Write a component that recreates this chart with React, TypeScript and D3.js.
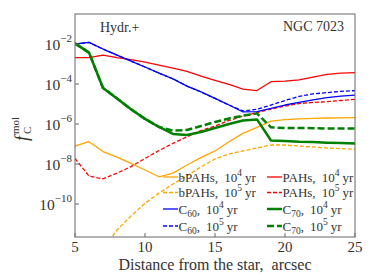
import * as d3 from 'd3';

// distance from the star, arcsec
const distances = [5, 6, 7, 8, 9, 10, 11, 12, 13, 14, 15, 16, 17, 18, 19, 20, 21, 22, 23, 24, 25];

const bPAHs1e4 = [7.9e-8, 1.3e-7, 4.2e-8, 2.2e-8, 1.07e-8, 5.0e-9, 2.3e-9, 3.5e-9, 8.9e-9, 2.1e-8, 4.5e-8, 1.3e-7, 3.4e-7, 6.8e-7, 1.4e-6, 1.66e-6, 1.8e-6, 1.9e-6, 2.0e-6, 2.04e-6, 2.1e-6];
const bPAHs1e5 = [1e-15, 1e-14, 5e-13, 5e-12, 2.5e-11, 1.07e-10, 3.5e-10, 1.0e-9, 2.6e-9, 7.1e-9, 1.8e-8, 3.2e-8, 4.5e-8, 6.3e-8, 8.9e-8, 8.9e-8, 7.9e-8, 7.1e-8, 6.3e-8, 5.9e-8, 5.4e-8];
const pahs1e4 = [2.1e-3, 2.1e-3, 2.8e-3, 2.1e-3, 1.65e-3, 1.25e-3, 8.9e-4, 6.3e-4, 4.3e-4, 2.5e-4, 1.5e-4, 9.5e-5, 5.6e-5, 4.7e-5, 1.3e-4, 1.4e-4, 1.6e-4, 2.2e-4, 3.0e-4, 3.5e-4, 3.7e-4];
const pahs1e5 = [1.9e-8, 2.5e-9, 1.8e-9, 3.5e-9, 7.4e-9, 1.9e-8, 4.7e-8, 1.07e-7, 2.3e-7, 4.7e-7, 7.9e-7, 1.5e-6, 2.5e-6, 3.7e-6, 5.6e-6, 7.9e-6, 1.05e-5, 1.2e-5, 1.3e-5, 1.5e-5, 1.7e-5];
const c60_1e4 = [1.0e-2, 1.2e-2, 5.6e-3, 2.8e-3, 1.4e-3, 7.1e-4, 3.5e-4, 1.8e-4, 7.9e-5, 4.0e-5, 1.9e-5, 8.9e-6, 4.0e-6, 4.2e-6, 6.0e-6, 8.9e-6, 1.2e-5, 1.6e-5, 2.1e-5, 2.5e-5, 2.8e-5];
const c60_1e5 = [1.0e-2, 1.2e-2, 5.6e-3, 2.8e-3, 1.4e-3, 7.1e-4, 3.5e-4, 1.8e-4, 7.9e-5, 4.0e-5, 1.9e-5, 8.9e-6, 4.5e-6, 5.4e-6, 8.9e-6, 1.5e-5, 2.4e-5, 3.2e-5, 3.7e-5, 4.3e-5, 4.7e-5];
const c70_1e4 = [1.07e-2, 3.7e-3, 6.3e-5, 1.9e-5, 5.5e-6, 1.8e-6, 7.1e-7, 3.2e-7, 2.8e-7, 4.0e-7, 6.3e-7, 1.0e-6, 1.5e-6, 1.7e-6, 1.5e-7, 1.4e-7, 1.3e-7, 1.26e-7, 1.17e-7, 1.12e-7, 1.07e-7];
const c70_1e5 = [1.07e-2, 3.7e-3, 6.3e-5, 1.9e-5, 5.5e-6, 1.8e-6, 7.1e-7, 4.7e-7, 5.0e-7, 7.9e-7, 1.26e-6, 1.9e-6, 2.6e-6, 3.4e-6, 6.8e-7, 6.3e-7, 6.3e-7, 6.2e-7, 6.0e-7, 6.0e-7, 5.9e-7];

const xTicks = [5, 10, 15, 20, 25];
const yTickExps = [-2, -4, -6, -8, -10];

const W = 374;
const H = 280;
const left = 75;
const right = 355;
const top = 14;
const bottom = 237;

const textColor = '#333';
const font = "'Liberation Serif', 'DejaVu Serif', serif";

const x = d3.scaleLinear().domain([5, 25]).range([left, right]);
const y = d3.scaleLog().domain([Math.pow(10, -11.65), Math.pow(10, -0.5)]).range([bottom, top]);

const line = d3
  .line<number>()
  .x((d, i) => x(distances[i]))
  .y((d) => y(d));

const series = [
  { values: bPAHs1e4, color: 'orange', width: 1.3, dash: null },
  { values: bPAHs1e5, color: 'orange', width: 1.3, dash: '4,2' },
  { values: pahs1e4, color: 'red', width: 1.3, dash: null },
  { values: pahs1e5, color: 'red', width: 1.3, dash: '4,2' },
  { values: c60_1e4, color: 'blue', width: 1.3, dash: null },
  { values: c60_1e5, color: 'blue', width: 1.3, dash: '4,2' },
  { values: c70_1e4, color: 'green', width: 2.5, dash: null },
  { values: c70_1e5, color: 'green', width: 2.5, dash: '7,3' },
];

const legend = [
  { name: 'bPAHs,', sub: '', exp: '4', color: 'orange', width: 1.3, dash: null, col: 0, row: 0 },
  { name: 'bPAHs,', sub: '', exp: '5', color: 'orange', width: 1.3, dash: '4,2', col: 0, row: 1 },
  { name: 'C', sub: '60', exp: '4', color: 'blue', width: 1.3, dash: null, col: 0, row: 2 },
  { name: 'C', sub: '60', exp: '5', color: 'blue', width: 1.3, dash: '4,2', col: 0, row: 3 },
  { name: 'PAHs,', sub: '', exp: '4', color: 'red', width: 1.3, dash: null, col: 1, row: 0 },
  { name: 'PAHs,', sub: '', exp: '5', color: 'red', width: 1.3, dash: '4,2', col: 1, row: 1 },
  { name: 'C', sub: '70', exp: '4', color: 'green', width: 2.5, dash: null, col: 1, row: 2 },
  { name: 'C', sub: '70', exp: '5', color: 'green', width: 2.5, dash: '7,3', col: 1, row: 3 },
];

const legendColX = [163, 267];
const legendRowY = [177, 192.5, 209, 226];

export default function App() {
  return (
    <svg
      width={W}
      height={H}
      style={{ position: 'fixed', left: 0, top: 0, background: '#fff' }}
      fontFamily={font}
    >
      <defs>
        <clipPath id="plot">
          <rect x={left} y={top} width={right - left} height={bottom - top} />
        </clipPath>
      </defs>

      <g clipPath="url(#plot)">
        {series.map((s, i) => (
          <path
            key={i}
            d={line(s.values) || ''}
            fill="none"
            stroke={s.color}
            strokeWidth={s.width}
            strokeDasharray={s.dash || undefined}
            strokeLinejoin="round"
          />
        ))}
      </g>

      {/* frame */}
      <rect x={left} y={top} width={right - left} height={bottom - top} fill="none" stroke="#666" strokeWidth={1} />

      {/* x ticks */}
      {xTicks.map((t) => (
        <g key={t}>
          <line x1={x(t)} x2={x(t)} y1={bottom} y2={bottom - 4} stroke="#666" />
          <text x={x(t)} y={251.5} textAnchor="middle" fontSize={15} fill={textColor}>
            {t}
          </text>
        </g>
      ))}

      {/* y ticks */}
      {yTickExps.map((e) => (
        <g key={e}>
          <line x1={left} x2={left + 4} y1={y(Math.pow(10, e))} y2={y(Math.pow(10, e))} stroke="#666" />
          <text x={72} y={y(Math.pow(10, e)) + 6} textAnchor="end" fontSize={15.5} fill={textColor}>
            10
            <tspan dy={-8} fontSize={11}>
              {'\u2212' + Math.abs(e)}
            </tspan>
          </text>
        </g>
      ))}

      {/* annotations */}
      <text x={100} y={32} fontSize={14} fill={textColor}>
        Hydr.+
      </text>
      <text x={344} y={31} fontSize={14} fill={textColor} textAnchor="end">
        NGC 7023
      </text>

      {/* legend */}
      {legend.map((l, i) => {
        const lx = legendColX[l.col];
        const ly = legendRowY[l.row];
        return (
          <g key={i}>
            <line
              x1={lx}
              x2={lx + 15}
              y1={ly}
              y2={ly}
              stroke={l.color}
              strokeWidth={l.width}
              strokeDasharray={l.dash || undefined}
            />
            <text x={lx + 15.5} y={ly + 4.5} fontSize={13} fill={textColor}>
              {l.name}
              {l.sub ? (
                <tspan dy={3} fontSize={9.5}>
                  {l.sub}
                </tspan>
              ) : null}
              {l.sub ? <tspan dy={-3}>,</tspan> : null}
              <tspan dx={6}>10</tspan>
              <tspan dy={-6} fontSize={9.5}>
                {l.exp}
              </tspan>
              <tspan dy={6} dx={3}>
                yr
              </tspan>
            </text>
          </g>
        );
      })}

      {/* axis labels */}
      <text x={(left + right) / 2} y={270} textAnchor="middle" fontSize={16} fill={textColor}>
        Distance from the star,{'\u00a0\u00a0'}arcsec
      </text>
      <g transform="translate(28,141) rotate(-90)" fill={textColor}>
        <text x={0} y={0} fontSize={18} fontStyle="italic">
          f
        </text>
        <text x={7} y={3} fontSize={11}>
          C
        </text>
        <text x={7} y={-9} fontSize={11}>
          mol
        </text>
      </g>
    </svg>
  );
}
